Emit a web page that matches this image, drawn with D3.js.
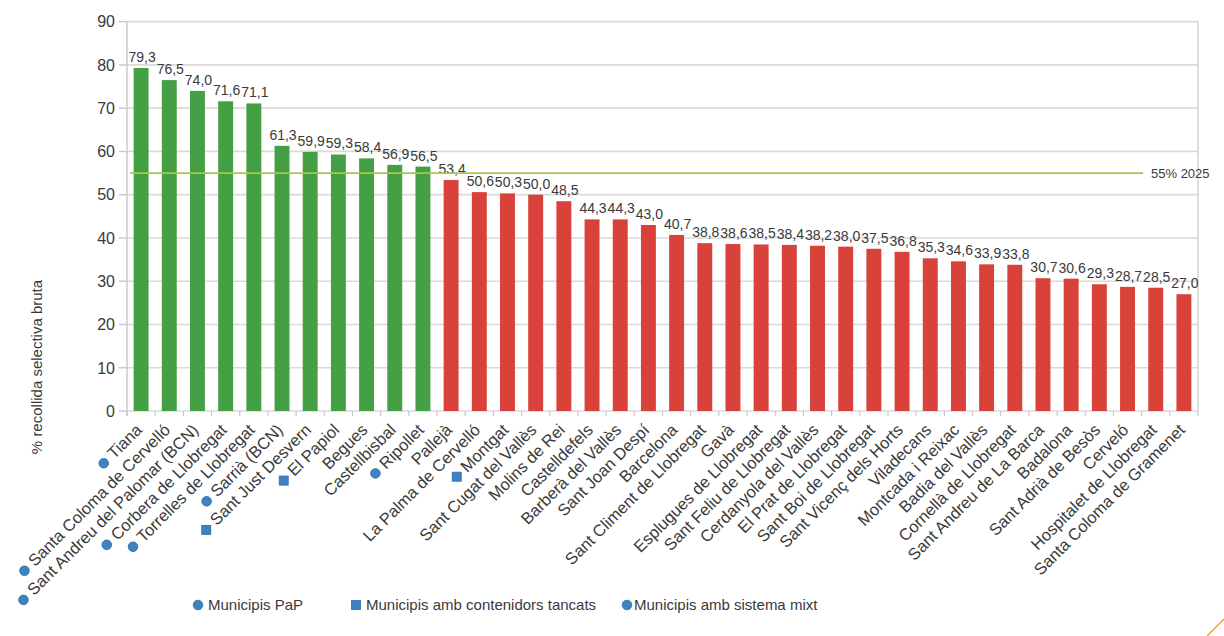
<!DOCTYPE html>
<html>
<head>
<meta charset="utf-8">
<script src="https://cdn.jsdelivr.net/npm/d3@7"></script>
<style>
  html, body { margin: 0; padding: 0; background: #fff; }
  svg { display: block; font-family: 'Liberation Sans', Arial, sans-serif; }
</style>
</head>
<body>
<svg id="chart" width="1224" height="636"></svg>
<script>
// dades: % recollida selectiva bruta per municipi
const municipis = [
  'Tiana', 'Santa Coloma de Cervelló', 'Sant Andreu del Palomar (BCN)', 'Corbera de Llobregat',
  'Torrelles de Llobregat', 'Sarrià (BCN)', 'Sant Just Desvern', 'El Papiol', 'Begues',
  'Castellbisbal', 'Ripollet', 'Pallejà', 'La Palma de Cervelló', 'Montgat',
  'Sant Cugat del Vallès', 'Molins de Rei', 'Castelldefels', 'Barberà del Vallès',
  'Sant Joan Despí', 'Barcelona', 'Sant Climent de Llobregat', 'Gavà',
  'Esplugues de Llobregat', 'Sant Feliu de Llobregat', 'Cerdanyola del Vallès',
  'El Prat de Llobregat', 'Sant Boi de Llobregat', 'Sant Vicenç dels Horts', 'Viladecans',
  'Montcada i Reixac', 'Badia del Vallès', 'Cornellà de Llobregat', 'Sant Andreu de La Barca',
  'Badalona', 'Sant Adrià de Besòs', 'Cerveló', 'Hospitalet de Llobregat',
  'Santa Coloma de Gramenet'
];
const valors = [
  79.3, 76.5, 74.0, 71.6, 71.1, 61.3, 59.9, 59.3, 58.4, 56.9, 56.5,
  53.4, 50.6, 50.3, 50.0, 48.5, 44.3, 44.3, 43.0, 40.7, 38.8, 38.6,
  38.5, 38.4, 38.2, 38.0, 37.5, 36.8, 35.3, 34.6, 33.9, 33.8, 30.7,
  30.6, 29.3, 28.7, 28.5, 27.0
];
// tipus de recollida marcat al costat del nom (null = cap marca)
const sistema = [
  'PaP', 'PaP', 'PaP', 'PaP', 'PaP', 'PaP', 'tancats', 'tancats', null, null, 'mixt',
  null, null, 'tancats', null, null, null, null, null, null, null, null,
  null, null, null, null, null, null, null, null, null, null, null,
  null, null, null, null, null
];
const yTicks = [0, 10, 20, 30, 40, 50, 60, 70, 80, 90];
const objectiu = 55;
const objectiuLabel = '55% 2025';
const llegenda = [
  { key: 'PaP', text: 'Municipis PaP' },
  { key: 'tancats', text: 'Municipis amb contenidors tancats' },
  { key: 'mixt', text: 'Municipis amb sistema mixt' }
];

const data = municipis.map((m, i) => ({ nom: m, valor: valors[i], sistema: sistema[i] }));

const svg = d3.select('#chart');
const plotLeft = 127, plotRight = 1198, plotTop = 21.7, plotBottom = 411;
const textColor = '#3a3a3a';
const green = '#45a045', red = '#d8423a', blue = '#3d82c2';

const x = d3.scaleBand().domain(municipis).range([plotLeft, plotRight])
  .paddingInner(0.47).paddingOuter(0.235);
const y = d3.scaleLinear().domain([0, 90]).range([plotBottom, plotTop]);
const step = x.step();

// graella
svg.append('g').selectAll('line').data(yTicks).join('line')
  .attr('x1', plotLeft).attr('x2', plotRight)
  .attr('y1', d => y(d)).attr('y2', d => y(d))
  .attr('stroke', '#dadada').attr('stroke-width', 1.7);
svg.append('line').attr('x1', plotRight).attr('x2', plotRight).attr('y1', plotTop).attr('y2', plotBottom)
  .attr('stroke', '#dadada').attr('stroke-width', 1.7);
svg.append('line').attr('x1', plotLeft).attr('x2', plotLeft).attr('y1', plotTop).attr('y2', plotBottom + 5)
  .attr('stroke', '#c8c8c8').attr('stroke-width', 1.4);

// eix Y
const yAxis = svg.append('g');
yAxis.selectAll('line').data(yTicks).join('line')
  .attr('x1', plotLeft - 8).attr('x2', plotLeft).attr('y1', d => y(d)).attr('y2', d => y(d))
  .attr('stroke', '#c8c8c8').attr('stroke-width', 1.4);
yAxis.selectAll('text').data(yTicks).join('text')
  .attr('x', plotLeft - 12).attr('y', d => y(d)).attr('dy', '0.36em')
  .attr('text-anchor', 'end').style('font-size', '16px').style('fill', textColor)
  .text(d => d);

svg.append('text')
  .attr('transform', `translate(42, 367) rotate(-90)`)
  .attr('text-anchor', 'middle').style('font-size', '15px').style('fill', textColor)
  .text('% recollida selectiva bruta');

// marques de l'eix X
svg.append('g').selectAll('line').data(d3.range(municipis.length + 1)).join('line')
  .attr('x1', i => plotLeft + i * step).attr('x2', i => plotLeft + i * step)
  .attr('y1', plotBottom).attr('y2', plotBottom + 5)
  .attr('stroke', '#c8c8c8').attr('stroke-width', 1.2);

// barres
svg.append('g').selectAll('rect').data(data).join('rect')
  .attr('x', d => x(d.nom)).attr('width', x.bandwidth())
  .attr('y', d => y(d.valor)).attr('height', d => y(0) - y(d.valor))
  .attr('fill', d => d.valor >= objectiu ? green : red);

// etiquetes de valor
svg.append('g').selectAll('text').data(data).join('text')
  .attr('x', d => x(d.nom) + x.bandwidth() / 2 + 1)
  .attr('y', d => y(d.valor) - 6)
  .attr('text-anchor', 'middle').style('font-size', '14px').style('fill', textColor)
  .text(d => d.valor.toFixed(1).replace('.', ','));

// línia objectiu 55%
svg.append('line')
  .attr('x1', plotLeft + 3).attr('x2', 1143)
  .attr('y1', y(objectiu)).attr('y2', y(objectiu))
  .attr('stroke', '#a9c84a').attr('stroke-width', 1.8);
svg.append('text')
  .attr('x', 1151).attr('y', y(objectiu)).attr('dy', '0.38em')
  .style('font-size', '13px').style('fill', textColor)
  .text(objectiuLabel);

// marca del tipus de recollida (rot: gir per redreçar el quadrat dins l'etiqueta girada)
function marker(g, tipus, cx, cy, rot) {
  if (tipus === 'tancats') {
    g.append('rect').attr('x', cx - 4.5).attr('y', cy - 4.5).attr('width', 9).attr('height', 9)
      .attr('transform', rot ? `rotate(${rot}, ${cx}, ${cy})` : null)
      .attr('fill', blue).attr('stroke', '#2f6aa3').attr('stroke-width', 0.8);
  } else {
    g.append('circle').attr('cx', cx).attr('cy', cy).attr('r', 4.8)
      .attr('fill', blue).attr('stroke', '#2f6aa3').attr('stroke-width', 0.8);
  }
}

// etiquetes de municipis
const labels = svg.append('g').selectAll('g').data(data).join('g')
  .attr('transform', d => `translate(${x(d.nom) + x.bandwidth() / 2 + 2}, ${plotBottom + 20}) rotate(-45)`);
labels.append('text')
  .attr('text-anchor', 'end').style('font-size', '16.5px').style('fill', textColor)
  .text(d => d.nom);
labels.each(function(d) {
  if (!d.sistema) return;
  const len = d3.select(this).select('text').node().getComputedTextLength();
  marker(d3.select(this), d.sistema, -len - 10, -5, 45);
});

// llegenda
const legX = [198, 356, 627];
const leg = svg.append('g').selectAll('g').data(llegenda).join('g')
  .attr('transform', (d, i) => `translate(${legX[i]}, 605)`);
leg.each(function(d) { marker(d3.select(this), d.key, 0, 0, 0); });
leg.append('text')
  .attr('x', (d, i) => i === 2 ? 7 : 10).attr('dy', '0.36em')
  .style('font-size', '15px').style('fill', textColor)
  .text(d => d.text);

// traç taronja de la cantonada
svg.append('line').attr('x1', 1224).attr('y1', 619).attr('x2', 1207).attr('y2', 636)
  .attr('stroke', '#f5a033').attr('stroke-width', 1.5);
</script>
</body>
</html>
